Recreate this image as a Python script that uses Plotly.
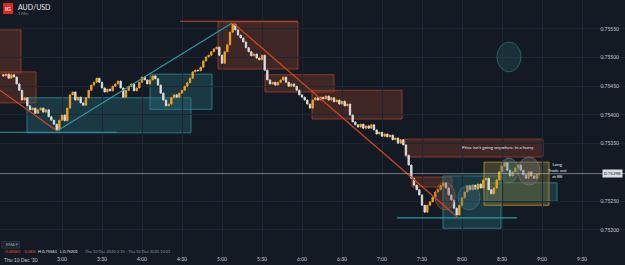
import plotly.graph_objects as go
import pandas as pd

# ---- data -------------------------------------------------------------
start_time = "2020-12-10 02:16:00"
bar_minutes = 2
first_open = 0.75470
closes = [
    0.75468, 0.75471, 0.75464, 0.75470, 0.75466, 0.75454, 0.75443, 0.75426, 0.75430, 0.75416,
    0.75409, 0.75412, 0.75403, 0.75409, 0.75412, 0.75405, 0.75409, 0.75397, 0.75391, 0.75384,
    0.75374, 0.75391, 0.75400, 0.75390, 0.75412, 0.75435, 0.75440, 0.75426, 0.75431, 0.75421,
    0.75417, 0.75430, 0.75443, 0.75452, 0.75457, 0.75464, 0.75457, 0.75447, 0.75440, 0.75445,
    0.75442, 0.75450, 0.75454, 0.75459, 0.75447, 0.75431, 0.75443, 0.75450, 0.75454, 0.75442,
    0.75447, 0.75457, 0.75466, 0.75461, 0.75454, 0.75461, 0.75468, 0.75463, 0.75452, 0.75438,
    0.75426, 0.75416, 0.75419, 0.75430, 0.75435, 0.75431, 0.75438, 0.75443, 0.75450, 0.75456,
    0.75464, 0.75475, 0.75478, 0.75477, 0.75483, 0.75494, 0.75501, 0.75504, 0.75510, 0.75515,
    0.75518, 0.75504, 0.75490, 0.75510, 0.75522, 0.75544, 0.75558, 0.75548, 0.75539, 0.75534,
    0.75527, 0.75517, 0.75510, 0.75503, 0.75506, 0.75499, 0.75496, 0.75504, 0.75478, 0.75461,
    0.75454, 0.75457, 0.75452, 0.75457, 0.75461, 0.75466, 0.75457, 0.75450, 0.75454, 0.75450,
    0.75443, 0.75435, 0.75431, 0.75426, 0.75419, 0.75412, 0.75426, 0.75430, 0.75426, 0.75431,
    0.75428, 0.75433, 0.75426, 0.75430, 0.75423, 0.75426, 0.75419, 0.75424, 0.75416, 0.75419,
    0.75400, 0.75388, 0.75383, 0.75379, 0.75384, 0.75377, 0.75381, 0.75377, 0.75383, 0.75374,
    0.75367, 0.75370, 0.75363, 0.75367, 0.75362, 0.75365, 0.75357, 0.75360, 0.75351, 0.75357,
    0.75348, 0.75330, 0.75313, 0.75290, 0.75278, 0.75270, 0.75261, 0.75243, 0.75231, 0.75243,
    0.75249, 0.75257, 0.75266, 0.75270, 0.75277, 0.75282, 0.75273, 0.75261, 0.75252, 0.75238,
    0.75226, 0.75243, 0.75256, 0.75266, 0.75277, 0.75270, 0.75278, 0.75271, 0.75280, 0.75273,
    0.75287, 0.75290, 0.75270, 0.75263, 0.75273, 0.75287, 0.75301, 0.75311, 0.75317, 0.75304,
    0.75294, 0.75301, 0.75308, 0.75313, 0.75304, 0.75296, 0.75290, 0.75301, 0.75294, 0.75290,
    0.75297, 0.75297,
]
current_price = 0.75298
price_ticks = [0.75200, 0.75250, 0.75350, 0.75400, 0.75450, 0.75500, 0.75550]
price_tick_text = ["0.75200", "0.75250", "0.75350", "0.75400", "0.75450", "0.75500", "0.75550"]
time_ticks = ["03:00", "03:30", "04:00", "04:30", "05:00", "05:30", "06:00", "06:30",
              "07:00", "07:30", "08:00", "08:30", "09:00", "09:30", "10:00"]
time_tick_text = ["3:00", "3:30", "4:00", "4:30", "5:00", "5:30", "6:00", "6:30",
                  "7:00", "7:30", "8:00", "8:30", "9:00", "9:30", "10:00"]

# drawings: (t0, t1, p0, p1)
zones_brown = [
    ("02:00:00", "02:29:15", 0.75548, 0.75473),
    ("02:00:00", "02:40:30", 0.75475, 0.75421),
    ("04:57:00", "05:57:00", 0.75562, 0.75480),
    ("05:32:15", "06:24:00", 0.75470, 0.75440),
    ("06:07:30", "07:15:00", 0.75443, 0.75393),
    ("07:17:15", "09:00:45", 0.75358, 0.75327),
    ("07:22:30", "07:52:30", 0.75292, 0.75275),
]
zones_teal = [
    ("02:33:45", "04:36:45", 0.75430, 0.75369),
    ("04:06:00", "04:52:30", 0.75471, 0.75410),
    ("07:45:45", "08:29:15", 0.75294, 0.75203),
    ("08:18:45", "09:11:15", 0.75282, 0.75250),
]
zones_yellow = [
    ("08:16:30", "09:05:15", 0.75318, 0.75243),
]
red_lines = [
    ("02:13:30", "02:56:15", 0.75443, 0.75372),
    ("05:08:15", "07:56:15", 0.75560, 0.75223),
    ("04:28:30", "05:57:00", 0.75563, 0.75563),
]
teal_lines = [
    ("02:56:15", "05:07:30", 0.75372, 0.75560),
    ("02:00:00", "03:41:00", 0.75370, 0.75370),
    ("07:11:15", "08:41:15", 0.75221, 0.75221),
]
circles = [
    ("07:39:45", "07:54:45", 0.75283, 0.75235, "rgba(130,80,60,0.35)", "rgba(160,95,70,0.6)"),
    ("07:57:00", "08:13:30", 0.75278, 0.75235, "rgba(60,110,120,0.35)", "rgba(70,130,140,0.6)"),
    ("08:28:30", "08:42:00", 0.75325, 0.75282, "rgba(70,120,130,0.38)", "rgba(80,135,145,0.6)"),
    ("08:42:00", "08:58:30", 0.75327, 0.75278, "rgba(100,105,115,0.42)", "rgba(120,125,135,0.6)"),
    ("08:26:15", "08:44:15", 0.75527, 0.75475, "rgba(35,95,95,0.35)", "rgba(50,130,130,0.6)"),
]

# ---- build ------------------------------------------------------------
day = "2020-12-10 "
def T(s):
    return day + s

times = pd.date_range(start_time, periods=len(closes), freq=f"{bar_minutes}min")
opens = [first_open] + closes[:-1]
highs = [max(o, c) for o, c in zip(opens, closes)]
lows = [min(o, c) for o, c in zip(opens, closes)]

BG = "#131a24"
GRID = "#1d2633"
TXT = "#8a93a0"

fig = go.Figure()
fig.add_trace(go.Candlestick(
    x=times, open=opens, high=highs, low=lows, close=closes,
    increasing=dict(line=dict(color="#f2a11f", width=1), fillcolor="#f2a11f"),
    decreasing=dict(line=dict(color="#dcdcdc", width=1), fillcolor="#dcdcdc"),
    whiskerwidth=0, hoverinfo="skip", showlegend=False,
))

shapes = []
for t0, t1, p0, p1 in zones_brown:
    shapes.append(dict(type="rect", xref="x", yref="y", x0=T(t0), x1=T(t1), y0=p0, y1=p1,
                       fillcolor="rgba(115,55,40,0.45)", line=dict(color="rgba(165,65,40,0.8)", width=1),
                       layer="below"))
for t0, t1, p0, p1 in zones_teal:
    shapes.append(dict(type="rect", xref="x", yref="y", x0=T(t0), x1=T(t1), y0=p0, y1=p1,
                       fillcolor="rgba(40,105,115,0.40)", line=dict(color="rgba(45,140,150,0.8)", width=1),
                       layer="below"))
for t0, t1, p0, p1 in zones_yellow:
    shapes.append(dict(type="rect", xref="x", yref="y", x0=T(t0), x1=T(t1), y0=p0, y1=p1,
                       fillcolor="rgba(120,112,55,0.45)", line=dict(color="rgba(190,140,40,0.85)", width=1),
                       layer="below"))
for t0, t1, p0, p1, fc, lc in circles:
    shapes.append(dict(type="circle", xref="x", yref="y", x0=T(t0), x1=T(t1), y0=p0, y1=p1,
                       fillcolor=fc, line=dict(color=lc, width=1), layer="above"))
for t0, t1, p0, p1 in red_lines:
    shapes.append(dict(type="line", xref="x", yref="y", x0=T(t0), x1=T(t1), y0=p0, y1=p1,
                       line=dict(color="#d2451e", width=1.2)))
for t0, t1, p0, p1 in teal_lines:
    shapes.append(dict(type="line", xref="x", yref="y", x0=T(t0), x1=T(t1), y0=p0, y1=p1,
                       line=dict(color="#2b9aa6", width=1.2)))
# current price line
shapes.append(dict(type="line", xref="paper", yref="y", x0=0, x1=1, y0=current_price, y1=current_price,
                   line=dict(color="rgba(200,205,212,0.55)", width=1)))
# IG logo
shapes.append(dict(type="rect", xref="paper", yref="paper", x0=0.005, x1=0.021, y0=0.945, y1=0.988,
                   fillcolor="#e0261d", line=dict(width=0)))
# EMA box
shapes.append(dict(type="rect", xref="paper", yref="paper", x0=0.003, x1=0.031, y0=0.027, y1=0.053,
                   fillcolor="#1b2330", line=dict(color="#3a4452", width=0.6)))

ann = []
def A(x, y, text, size=4.5, color="#ffffff", xanchor="left", xref="paper", yref="paper", yshift=0, **kw):
    ann.append(dict(x=x, y=y, xref=xref, yref=yref, text=text, showarrow=False, yshift=yshift,
                    font=dict(size=size, color=color, family="Lato"), xanchor=xanchor, yanchor="middle", **kw))

A(0.013, 0.967, "<b>IG</b>", size=6, xanchor="center")
A(0.026, 0.973, "AUD/USD", size=7, color="#e6e9ee")
A(0.026, 0.947, "1 Min", size=4, color=TXT)
A(T("08:27:00"), 0.75343, "Price isn't going anywhere in a hurry", size=4.5, color="#e8e8e8",
  xanchor="center", xref="x", yref="y")
A(T("09:11:15"), 0.75303, "Long<br>Trade out<br>at BE", size=4.5, color="#e8e8e8",
  xanchor="center", xref="x", yref="y")
A(0.997, current_price, "0.75298", size=4.5, color="#131a24", xanchor="right", yref="y",
  bgcolor="#d9dde3", borderpad=1)
A(0.006, 0.040, "EMA 9", size=4, color="#aab2bd")
A(0.003, 0.012, "-0.00063", size=4, color="#e0552a")
A(0.034, 0.012, "-0.08%", size=4, color="#e0552a")
A(0.058, 0.012, "H 0.75563", size=4, color="#e6e9ee")
A(0.093, 0.012, "L 0.75201", size=4, color="#e6e9ee")
A(0.133, 0.012, "Thu 10 Dec 2020 2:15 - Thu 10 Dec 2020 10:01", size=4, color=TXT)
A(0.003, 0, "Thu 10 Dec '20", size=5, color="#c4cad3", yshift=-5)

fig.update_layout(
    width=625, height=265,
    margin=dict(l=0, r=0, t=0, b=10),
    paper_bgcolor=BG, plot_bgcolor=BG,
    shapes=shapes, annotations=ann,
    showlegend=False,
    font=dict(family="Lato", color=TXT, size=5),
    xaxis=dict(
        range=[T("02:13:30"), T("10:02:15")],
        rangeslider=dict(visible=False),
        tickvals=[T(t) for t in time_ticks], ticktext=time_tick_text,
        tickfont=dict(size=5, color="#c4cad3"),
        showgrid=True, gridcolor=GRID, gridwidth=1, zeroline=False,
        showline=False, ticks="", ticklen=0,
    ),
    yaxis=dict(
        range=[0.751565, 0.756000],
        side="right", ticklabelposition="inside",
        tickvals=price_ticks, ticktext=price_tick_text,
        tickfont=dict(size=5, color="#c4cad3"),
        ticklabelstandoff=3,
        showgrid=True, gridcolor=GRID, gridwidth=1, zeroline=False,
        showline=False, ticks="",
    ),
)

fig.write_html("out.html")
